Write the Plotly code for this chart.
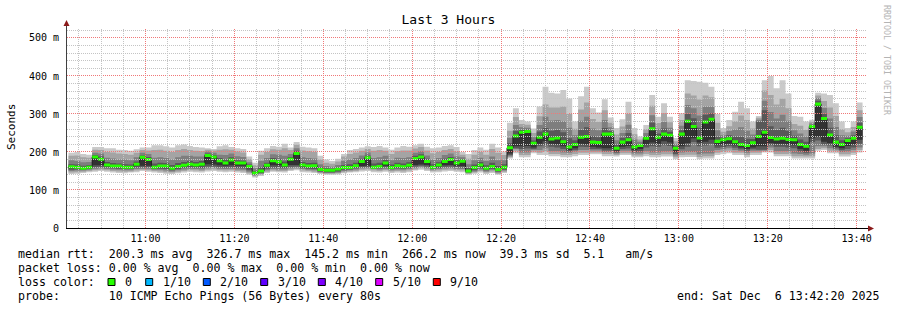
import math
import plotly.graph_objects as go
import pandas as pd

# ---------------- data ----------------
step_seconds = 80
first_step_start = "2025-12-06 10:42:40"
x_range = ["2025-12-06 10:42:20", "2025-12-06 13:42:20"]
y_range = [0, 526.3]

y_tick_values = [0, 100, 200, 300, 400, 500]
y_tick_labels = ["0", "100 m", "200 m", "300 m", "400 m", "500 m"]

# sorted ping round-trip times per 80 s step (ms); median = 6th ping
ping1 = [142,143,145,147,148,150,148,146,145,144, 146,147,150,148,146,145,143,142,144,146,
         148,147,146,149,150,148,147,148,146,145, 140,133,137,145,148,147,146,150,152,147,
         146,145,142,140,140,141,144,146,147,149, 150,147,146,148,145,146,145,147,151,153,
         150,146,147,149,150,148,147,140,143,146, 142,145,140,145,183,197,186,186,197,192,
         192,189,189,186,186,189,192,192,194,194, 189,189,188,192,192,186,186,189,186,186,
         188,188,181,186,187,187,181,183,183,192, 194,197,192,192,186,192,192,199,199,189,
         189,189,183,183,183,183,203,205,197,197, 188,188,192,199]
ping2 = [146,147,148,150,152,153,152,150,149,148, 149,151,153,152,150,149,147,146,148,150,
         152,151,150,153,154,152,151,152,150,149, 144,136,140,148,151,150,150,153,155,151,
         150,148,145,143,143,144,147,149,150,153, 154,151,150,152,149,150,149,151,154,157,
         154,150,151,153,154,152,151,143,146,150, 146,149,143,148,186,203,192,192,201,198,
         201,195,195,192,192,195,198,198,199,199, 195,195,192,197,197,191,191,195,192,192,
         194,194,186,192,193,193,187,189,189,198, 200,203,198,198,192,198,198,202,205,195,
         195,195,189,189,188,189,208,210,203,202, 194,194,198,205]
ping3 = [150,151,151,153,156,157,155,154,153,152, 152,155,156,156,153,153,151,149,152,154,
         156,155,154,157,158,156,155,156,154,153, 148,139,143,152,155,154,154,157,159,155,
         153,152,147,145,145,146,150,152,154,157, 158,155,154,156,152,154,153,155,158,161,
         158,153,155,157,158,156,155,145,149,154, 149,153,146,151,189,208,199,199,205,205,
         210,202,202,199,198,201,205,205,204,204, 200,200,196,203,203,196,196,202,199,199,
         201,201,191,199,200,200,194,196,196,205, 207,210,205,203,198,203,203,204,212,202,
         202,202,196,195,193,196,215,215,210,206, 200,201,205,212]
ping4 = [153,154,153,155,160,161,159,157,156,155, 155,159,160,160,155,156,155,152,155,158,
         160,159,158,162,162,160,159,160,158,157, 152,141,145,156,159,158,158,161,162,158,
         156,155,149,147,147,149,153,154,157,160, 161,157,157,160,155,157,156,158,162,164,
         162,155,158,161,162,160,159,147,152,157, 152,156,149,153,192,210,208,209,208,215,
         218,214,212,208,201,205,214,213,208,208, 204,204,199,208,209,200,202,212,215,214,
         218,216,195,207,214,226,215,217,222,211, 213,215,211,207,203,207,206,206,218,214,
         214,212,210,201,198,226,230,220,217,210, 205,208,212,222]
ping5 = [157,157,155,157,165,165,162,160,160,157, 157,163,164,164,157,159,159,154,158,161,
         164,162,163,168,167,165,164,165,164,164, 157,143,147,160,165,165,162,166,166,162,
         159,160,151,149,149,152,156,156,160,163, 164,158,159,164,157,160,158,161,166,167,
         166,157,162,165,166,164,163,148,155,161, 154,159,151,156,196,215,215,216,212,222,
         228,222,220,215,205,210,222,220,214,212, 210,210,203,214,216,205,208,220,225,222,
         228,225,200,215,224,236,225,227,232,218, 220,222,218,212,208,212,215,215,224,222,
         222,220,218,208,203,236,240,227,224,214, 210,216,220,232]
median_rtt = [161,160,157,160,187,181,166,163,163,160, 160,168,186,180,160,163,163,157,162,165,
              168,166,168,191,187,177,171,179,171,171, 162,145,150,165,177,174,166,181,196,166,
              163,164,154,152,152,155,159,159,164,175, 185,160,162,171,159,164,161,165,183,187,
              175,160,166,175,180,171,176,150,159,166, 157,162,154,160,211,242,252,254,223,239,
              247,234,237,227,213,220,239,241,226,225, 247,247,210,226,232,213,217,236,261,239,
              247,244,210,247,281,267,237,279,286,228, 232,235,227,220,217,224,241,252,238,234,
              236,233,232,220,215,267,326,288,245,226, 220,230,236,265]
ping7 = [168,167,164,166,192,188,174,171,170,168, 167,175,191,187,170,172,171,166,171,174,
         176,174,176,196,192,184,180,186,178,177, 167,150,160,172,184,182,175,187,203,174,
         171,172,160,157,156,160,166,168,172,182, 191,170,172,179,167,172,170,173,190,194,
         182,168,173,182,187,178,181,158,167,174, 165,172,163,168,223,255,258,259,230,254,
         263,256,258,252,236,231,258,265,242,239, 263,255,220,237,250,222,221,242,277,249,
         262,253,215,257,300,289,264,298,302,241, 238,244,241,240,235,234,280,310,268,258,
         264,255,243,233,227,271,335,300,264,244, 231,236,244,277]
ping8 = [178,176,173,174,198,196,185,183,180,180, 178,186,198,195,185,186,184,180,186,190,
         190,188,188,201,198,193,192,196,189,187, 173,157,176,184,194,193,190,195,210,186,
         184,183,168,163,161,166,176,180,184,191, 199,184,186,190,178,185,184,186,198,202,
         191,180,184,192,196,188,186,168,178,185, 176,188,178,178,237,271,265,264,239,271,
         293,283,284,281,264,244,282,293,262,257, 284,265,231,250,272,233,227,250,297,261,
         279,264,221,269,324,315,296,320,320,257, 244,255,259,265,256,246,285,335,305,288,
         298,282,257,249,241,275,342,316,288,266, 244,243,254,292]
ping9 = [190,191,186,185,206,205,200,199,196,195, 193,198,205,204,205,206,203,200,205,208,
         205,203,202,206,204,206,207,206,201,199, 181,165,193,200,207,206,210,205,219,204,
         202,200,180,172,169,175,188,195,199,203, 208,203,205,203,195,202,204,204,209,213,
         204,197,200,205,208,202,193,182,193,200, 193,208,198,192,256,292,274,272,250,294,
         325,317,317,320,300,261,312,330,287,279, 310,277,246,267,300,247,233,260,322,276,
         302,278,228,284,354,349,338,349,344,277, 253,268,281,296,284,262,290,362,350,325,
         340,315,274,269,258,280,349,334,317,295, 260,252,266,310]
ping10 = [198,200,195,193,213,213,210,210,206,205, 203,207,212,212,218,218,215,212,218,220,
          216,213,212,210,208,215,218,213,210,208, 188,172,203,210,216,214,222,212,226,214,
          212,210,190,180,176,182,195,205,208,212, 215,213,216,212,206,212,216,214,218,222,
          214,210,212,216,218,213,200,195,205,212, 206,222,212,201,277,315,284,280,262,320,
          372,356,354,363,341,280,347,372,315,304, 339,291,263,286,332,263,241,271,350,293,
          328,293,237,302,389,387,385,382,372,300, 263,284,306,332,315,280,295,389,400,368,
          389,354,295,293,280,285,356,354,350,328, 280,263,280,330]

loss_labels = ["0", "1/10", "2/10", "3/10", "4/10", "5/10", "9/10"]
loss_colors = ["#26ff00", "#00b8ff", "#0059ff", "#5e00ff", "#7e00ff", "#dd00ff", "#ff0000"]

title_text = "Last 3 Hours"
y_title = "Seconds"
legend_lines = [
    "median rtt:  200.3 ms avg  326.7 ms max  145.2 ms min  266.2 ms now  39.3 ms sd  5.1   am/s",
    "packet loss: 0.00 % avg  0.00 % max  0.00 % min  0.00 % now",
    "loss color:",
    "probe:       10 ICMP Echo Pings (56 Bytes) every 80s",
]
end_text = "end: Sat Dec  6 13:42:20 2025"
watermark = "RRDTOOL / TOBI OETIKER"

# ---------------- geometry / style ----------------
W, H = 897, 310
ML, MR, MT, MB = 67, 30, 28, 82
PW, PH = W - ML - MR, H - MT - MB
MONO = "DejaVu Sans Mono"

def px(xp):
    return (xp - ML) / PW

def py(yp):
    return (H - MB - yp) / PH

def nb(s):
    return s.replace(" ", "\u00a0")

n = len(median_rtt)
t0 = pd.Timestamp(first_step_start)
edges = [(t0 + pd.Timedelta(seconds=step_seconds * k)).strftime("%Y-%m-%d %H:%M:%S")
         for k in range(n + 1)]

def stepy(v):
    return list(v) + [v[-1]]

fig = go.Figure()

smoke = [(ping1, ping10, "#cacaca"), (ping2, ping9, "#a4a4a4"),
         (ping3, ping8, "#7e7e7e"), (ping4, ping7, "#585858"),
         (ping5, median_rtt, "#323232")]
for lo, hi, col in smoke:
    fig.add_trace(go.Scatter(x=edges, y=stepy(lo), mode="lines",
                             line=dict(width=0, shape="hv"), hoverinfo="skip",
                             showlegend=False))
    fig.add_trace(go.Scatter(x=edges, y=stepy(hi), mode="lines",
                             line=dict(width=0, shape="hv"), fill="tonexty",
                             fillcolor=col, hoverinfo="skip", showlegend=False))

fig.add_trace(go.Scatter(x=edges, y=stepy(median_rtt), mode="lines",
                         line=dict(width=1, color="#202020", shape="hv"),
                         hoverinfo="skip", showlegend=False))

swidth = 4.0
med_lo = [m - swidth for m in median_rtt]
med_hi = [m + swidth for m in median_rtt]
fig.add_trace(go.Scatter(x=edges, y=stepy(med_lo), mode="lines",
                         line=dict(width=0, shape="hv"), hoverinfo="skip",
                         showlegend=False))
fig.add_trace(go.Scatter(x=edges, y=stepy(med_hi), mode="lines",
                         line=dict(width=0, shape="hv"), fill="tonexty",
                         fillcolor=loss_colors[0], hoverinfo="skip", showlegend=False))

shapes = []
minor_col = "#c4c4c4"
major_col = "#f07878"
dash = "1px,1px"

# grid lines snapped to pixel centres (drawn on top of the smoke, like rrdtool)
ymax = y_range[1]
for v in range(20, int(ymax) + 1, 20):
    ypix = (H - MB) - v / ymax * PH
    ypix = math.floor(ypix) + 0.5
    shapes.append(dict(type="line", xref="paper", yref="paper", x0=0, x1=1,
                       y0=py(ypix), y1=py(ypix),
                       line=dict(color=major_col if v % 100 == 0 else minor_col,
                                 width=1, dash=dash), layer="above"))
xs = pd.Timestamp(x_range[0])
xe = pd.Timestamp(x_range[1])
span = (xe - xs).total_seconds()
g = xs.ceil("5min")
while g < xe:
    xpix = ML + (g - xs).total_seconds() / span * PW
    xpix = math.floor(xpix) + 0.5
    shapes.append(dict(type="line", xref="paper", yref="paper",
                       x0=px(xpix), x1=px(xpix), y0=0, y1=1,
                       line=dict(color=major_col if g.minute % 20 == 0 else minor_col,
                                 width=1, dash=dash), layer="above"))
    g += pd.Timedelta(minutes=5)

# axes with arrows
axis_col = "#404040"
arrow_col = "#8b1a1a"
shapes.append(dict(type="line", xref="paper", yref="paper", x0=px(66.5), x1=px(66.5),
                   y0=py(228), y1=py(25),
                   line=dict(color=axis_col, width=1), layer="above"))
shapes.append(dict(type="line", xref="paper", yref="paper", x0=px(66), x1=px(869),
                   y0=py(228.5), y1=py(228.5),
                   line=dict(color="#000000", width=1), layer="above"))
shapes.append(dict(type="path", xref="paper", yref="paper",
                   path=f"M {px(63.5)} {py(26)} L {px(69.5)} {py(26)} L {px(66.5)} {py(20)} Z",
                   fillcolor=arrow_col, line=dict(width=0), layer="above"))
shapes.append(dict(type="path", xref="paper", yref="paper",
                   path=f"M {px(868)} {py(225.5)} L {px(868)} {py(231.5)} L {px(874)} {py(228.5)} Z",
                   fillcolor=arrow_col, line=dict(width=0), layer="above"))

annotations = []
legend_y = [254, 268, 282, 296]
for line, yy in zip(legend_lines, legend_y):
    annotations.append(dict(text=nb(line), xref="paper", yref="paper", x=px(16), y=py(yy),
                            xanchor="left", yanchor="middle", showarrow=False,
                            font=dict(family=MONO, size=11.6, color="#000000")))
annotations.append(dict(text=nb(end_text), xref="paper", yref="paper", x=px(881), y=py(296),
                        xanchor="right", yanchor="middle", showarrow=False,
                        font=dict(family=MONO, size=11.6, color="#000000")))

box_x = [108, 145.7, 203.3, 260.7, 318.3, 375.7, 433.3]
for bx, lab, col in zip(box_x, loss_labels, loss_colors):
    shapes.append(dict(type="rect", xref="paper", yref="paper",
                       x0=px(bx), x1=px(bx + 7), y0=py(285.5), y1=py(278.5),
                       fillcolor=col, line=dict(color="#000000", width=1), layer="above"))
    annotations.append(dict(text=lab, xref="paper", yref="paper", x=px(bx + 15), y=py(282),
                            xanchor="left", yanchor="middle", showarrow=False,
                            font=dict(family=MONO, size=11.6, color="#000000")))

annotations.append(dict(text=y_title, xref="paper", yref="paper", x=px(11), y=py(127),
                        xanchor="center", yanchor="middle", textangle=-90, showarrow=False,
                        font=dict(family=MONO, size=11, color="#000000")))
annotations.append(dict(text=nb(watermark), xref="paper", yref="paper", x=px(887), y=py(60),
                        xanchor="center", yanchor="middle", textangle=90, showarrow=False,
                        font=dict(family=MONO, size=8.3, color="#b4b4b4")))

fig.update_layout(
    width=W, height=H,
    margin=dict(l=ML, r=MR, t=MT, b=MB, pad=0),
    paper_bgcolor="#ffffff", plot_bgcolor="#ffffff",
    title=dict(text=title_text, x=0.5, xref="container", xanchor="center",
               y=1 - 19 / H, yref="container", yanchor="middle",
               font=dict(family=MONO, size=13, color="#000000")),
    showlegend=False,
    shapes=shapes,
    annotations=annotations,
    xaxis=dict(type="date", range=x_range, showgrid=False, zeroline=False,
               showline=False, ticks="", tick0="2025-12-06 11:00:00",
               dtick=20 * 60 * 1000, tickformat="%H:%M", ticklabelstandoff=3,
               tickfont=dict(family=MONO, size=10, color="#000000")),
    yaxis=dict(range=y_range, showgrid=False, zeroline=False, showline=False,
               ticks="", tickmode="array", tickvals=y_tick_values,
               ticktext=[nb(t) for t in y_tick_labels], ticklabelstandoff=7,
               tickfont=dict(family=MONO, size=10, color="#000000")),
)

fig.write_html("out.html")
